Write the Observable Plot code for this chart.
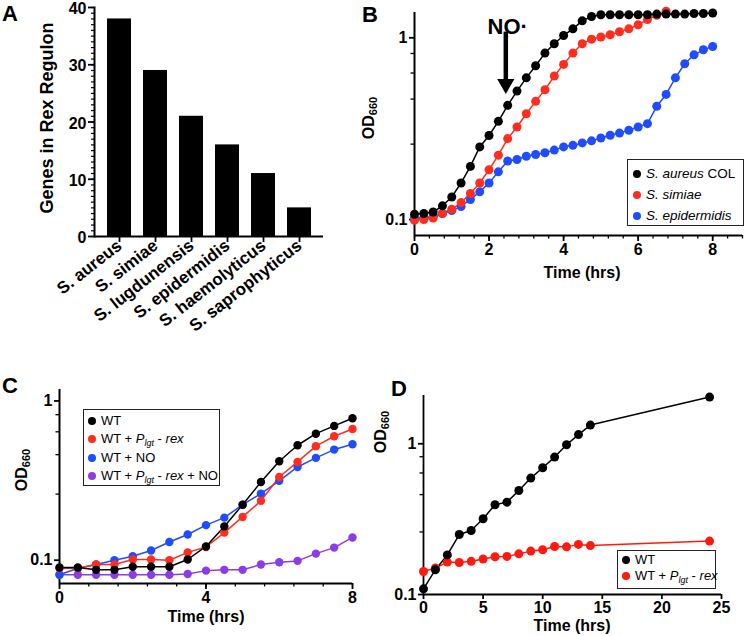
<!DOCTYPE html>
<html><head><meta charset="utf-8">
<script src="https://cdn.jsdelivr.net/npm/d3@7"></script>
<script src="https://cdn.jsdelivr.net/npm/@observablehq/plot@0.6"></script>
<style>
body{margin:0;background:#fff;}
#fig{position:relative;width:750px;height:636px;overflow:hidden;background:#fff;font-family:"Liberation Sans",Arial,Helvetica,sans-serif;color:#000;}
.panel{position:absolute;}
.panel svg{max-width:none;}
.letter{position:absolute;font-weight:bold;font-size:22px;line-height:1;z-index:3;}
.lab{position:absolute;font-weight:bold;font-size:16px;white-space:nowrap;line-height:1;transform:translate(-50%,-50%);z-index:3;}
.lab.rot{transform:translate(-50%,-50%) rotate(-90deg);}
.lab sub{font-size:11px;vertical-align:-3px;line-height:0;}
.legend{position:absolute;border:1.3px solid #222;background:#fff;font-size:13.5px;box-sizing:border-box;z-index:3;padding:2px 0 0 5px;overflow:visible;}
.legend .row{display:flex;align-items:center;white-space:nowrap;}
.legend .dot{display:inline-block;flex:0 0 8px;width:8px;height:8px;border-radius:50%;margin-right:5px;}
.legend sub{font-size:9px;vertical-align:-3px;line-height:0;}
</style>
</head><body>
<div id="fig"></div>
<script>
// ---------- Data ----------
const species = ["S. aureus","S. simiae","S. lugdunensis","S. epidermidis","S. haemolyticus","S. saprophyticus"];
const rexGenes = [38,29,21,16,11,5];

const timeB = [0,0.25,0.5,0.75,1,1.25,1.5,1.75,2,2.25,2.5,2.75,3,3.25,3.5,3.75,4,4.25,4.5,4.75,5,5.25,5.5,5.75,6,6.25,6.5,6.75,7,7.25,7.5,7.75,8];
const aureusCOL = [0.107,0.108,0.110,0.119,0.133,0.159,0.196,0.251,0.290,0.347,0.425,0.509,0.602,0.702,0.824,0.927,1.03,1.12,1.24,1.31,1.34,1.34,1.34,1.34,1.34,1.34,1.35,1.35,1.35,1.35,1.36,1.36,1.37];
const simiae = [0.099,0.100,0.102,0.108,0.114,0.124,0.139,0.159,0.188,0.226,0.279,0.323,0.382,0.447,0.518,0.616,0.714,0.824,0.927,0.983,1.01,1.04,1.08,1.12,1.18,1.26,1.33,1.40];
const epidermidis = [0.102,0.102,0.104,0.108,0.112,0.118,0.129,0.142,0.159,0.183,0.210,0.214,0.223,0.228,0.233,0.241,0.251,0.256,0.264,0.271,0.281,0.291,0.299,0.310,0.323,0.337,0.420,0.488,0.602,0.720,0.806,0.859,0.896];
const seriesB = ["S. aureus COL","S. simiae","S. epidermidis"];
const colorsB = ["#000000","#ff2d1e","#1f4cff"];
const noArrow = {label:"NO·", time:2.45, top:1.075, bottom:0.5};

const timeC = [0,0.5,1,1.5,2,2.5,3,3.5,4,4.5,5,5.5,6,6.5,7,7.5,8];
const wtC = [0.090,0.090,0.087,0.087,0.091,0.091,0.091,0.101,0.122,0.163,0.223,0.310,0.418,0.527,0.623,0.697,0.778];
const wtRexC = [0.089,0.089,0.094,0.094,0.101,0.101,0.100,0.112,0.121,0.149,0.187,0.236,0.333,0.414,0.520,0.600,0.667];
const wtNoC = [0.081,0.089,0.094,0.100,0.106,0.115,0.130,0.145,0.166,0.185,0.223,0.262,0.315,0.385,0.439,0.495,0.535];
const wtRexNoC = [0.081,0.081,0.081,0.081,0.081,0.081,0.081,0.082,0.086,0.087,0.087,0.094,0.097,0.099,0.110,0.120,0.139];
const colorsC = ["#000000","#ff2d1e","#1f4cff","#8a3de6"];

const timeD = [0,1,2,3,4,5,6,7,8,9,10,11,12,13,14,24];
const wtD = [0.109,0.146,0.183,0.250,0.266,0.318,0.394,0.410,0.490,0.592,0.693,0.816,0.985,1.15,1.33,2.04];
const wtRexD = [0.142,0.150,0.164,0.163,0.166,0.172,0.178,0.179,0.186,0.194,0.198,0.208,0.207,0.215,0.211,0.226];
const colorsD = ["#000000","#ff1a10"];

const logMinor = [0.26,0.46,0.64,0.82];

// ---------- helpers ----------
const FONT = "Liberation Sans, Arial, Helvetica, sans-serif";
const fig = document.getElementById("fig");
function place(node, left, top){
  const d = document.createElement("div");
  d.className = "panel"; d.style.left = left+"px"; d.style.top = top+"px";
  d.appendChild(node); fig.appendChild(d);
}
function html(s){ fig.insertAdjacentHTML("beforeend", s); }
const tickText = {fontSize:16, fontWeight:"bold", fontFamily:FONT};
function table(times, vals, name){ return vals.map((v,i)=>({t:times[i], v, s:name})); }

// ---------- Panel A ----------
const dataA = species.map((s,i)=>({s, n:rexGenes[i]}));
place(Plot.plot({
  width:375, height:330, marginLeft:94, marginRight:52, marginTop:7, marginBottom:94,
  style:{fontFamily:FONT, background:"transparent", overflow:"visible"},
  x:{domain:species, paddingInner:0.34, paddingOuter:0.34, axis:null},
  y:{domain:[0,40], axis:null},
  marks:[
    Plot.barY(dataA,{x:"s", y:"n", fill:"#000"}),
    Plot.axisY({ticks:d3.range(0,41,1), tickSize:3, tickFormat:()=>"", label:null, strokeWidth:1.2}),
    Plot.axisY({ticks:[0,10,20,30,40], tickSize:6, tickFormat:()=>"", label:null, strokeWidth:1.8}),
    Plot.axisY({ticks:[0,10,20,30,40], tickSize:0, tickPadding:8, label:null, ...tickText, fontSize:16, dy:1.5}),
    Plot.axisX({tickSize:6, tickPadding:1, tickRotate:-38, label:null, strokeWidth:1.8, ...tickText, fontSize:17}),
    Plot.ruleY([0],{strokeWidth:2}),
    Plot.frame({anchor:"left", strokeWidth:2})
  ]
}), 0, 0);
html(`<div class="letter" style="left:2px;top:3px">A</div>`);
html(`<div class="lab rot" style="left:47px;top:118px;font-size:18px">Genes in Rex Regulon</div>`);

// ---------- Panel B ----------
const yDomB = [0.0817, 1.378];
const dataB = [
  ...table(timeB, epidermidis, seriesB[2]),
  ...table(timeB, simiae, seriesB[1]),
  ...table(timeB, aureusCOL, seriesB[0])
];
const colB = {domain:seriesB, range:colorsB};
place(Plot.plot({
  width:375, height:330, marginLeft:39, marginRight:8, marginTop:12, marginBottom:95,
  style:{fontFamily:FONT, background:"transparent", overflow:"visible"},
  x:{domain:[0,8.8], axis:null},
  y:{type:"log", domain:yDomB, axis:null},
  color:colB,
  marks:[
    Plot.axisX({ticks:d3.range(0,8.81,0.4), tickSize:3.5, tickFormat:()=>"", label:null, strokeWidth:1.3}),
    Plot.axisX({ticks:[0,2,4,6,8], tickSize:6, tickPadding:2, label:null, strokeWidth:1.8, ...tickText}),
    Plot.axisY({ticks:logMinor, tickSize:3.5, tickFormat:()=>"", label:null, strokeWidth:1.3}),
    Plot.axisY({ticks:[0.1,1], tickSize:5, tickPadding:2, tickFormat:d=>String(d), label:null, strokeWidth:1.8, ...tickText}),
    Plot.ruleX([0],{strokeWidth:2}),
    Plot.ruleY([yDomB[0]],{strokeWidth:2}),
    Plot.line(dataB,{x:"t", y:"v", z:"s", stroke:"s", strokeWidth:1.5}),
    Plot.dot(dataB,{x:"t", y:"v", fill:"s", r:4.5}),
    Plot.ruleX([noArrow],{x:"time", y1:"top", y2:d=>d.bottom*1.16, strokeWidth:4.5, stroke:"#000"}),
    Plot.dot([noArrow],{x:"time", y:d=>d.bottom*1.115, symbol:"triangle", rotate:180, r:6.4, fill:"#000"}),
    Plot.text([noArrow],{x:2.5, y:1.15, text:"label", fontSize:22, fontWeight:"bold", fontFamily:FONT, fill:"#000"})
  ]
}), 375, 0);
html(`<div class="letter" style="left:362px;top:4px">B</div>`);
html(`<div class="lab rot" style="left:369px;top:118px">OD<sub>660</sub></div>`);
html(`<div class="lab" style="left:582px;top:273px">Time (hrs)</div>`);
html(`<div class="legend" style="left:627px;top:159px;width:117px;height:67px;padding-top:3px;line-height:21px">
<div class="row"><span class="dot" style="background:${colorsB[0]}"></span><span><i>S. aureus</i> COL</span></div>
<div class="row"><span class="dot" style="background:${colorsB[1]}"></span><span><i>S. simiae</i></span></div>
<div class="row"><span class="dot" style="background:${colorsB[2]}"></span><span><i>S. epidermidis</i></span></div>
</div>`);

// ---------- Panel C ----------
const seriesC = ["WT","WT + Plgt - rex","WT + NO","WT + Plgt - rex + NO"];
const yDomC = [0.0714, 1.18];
const dataC = [
  ...table(timeC, wtRexNoC, seriesC[3]),
  ...table(timeC, wtNoC, seriesC[2]),
  ...table(timeC, wtRexC, seriesC[1]),
  ...table(timeC, wtC, seriesC[0])
];
place(Plot.plot({
  width:375, height:306, marginLeft:59, marginRight:23, marginTop:59, marginBottom:53,
  style:{fontFamily:FONT, background:"transparent", overflow:"visible"},
  x:{domain:[0,8], axis:null},
  y:{type:"log", domain:yDomC, axis:null},
  color:{domain:seriesC, range:colorsC},
  marks:[
    Plot.axisX({ticks:d3.range(0,8.01,0.8), tickSize:3.5, tickFormat:()=>"", label:null, strokeWidth:1.3}),
    Plot.axisX({ticks:[0,4,8], tickSize:6, tickPadding:2, label:null, strokeWidth:1.8, ...tickText}),
    Plot.axisY({ticks:logMinor, tickSize:3.5, tickFormat:()=>"", label:null, strokeWidth:1.3}),
    Plot.axisY({ticks:[0.1,1], tickSize:5, tickPadding:2, tickFormat:d=>String(d), label:null, strokeWidth:1.8, ...tickText}),
    Plot.ruleX([0],{strokeWidth:2}),
    Plot.ruleY([yDomC[0]],{strokeWidth:2}),
    Plot.line(dataC,{x:"t", y:"v", z:"s", stroke:"s", strokeWidth:1.5}),
    Plot.dot(dataC,{x:"t", y:"v", fill:"s", r:4.2})
  ]
}), 0, 330);
html(`<div class="letter" style="left:2px;top:375px">C</div>`);
html(`<div class="lab rot" style="left:22px;top:470px">OD<sub>660</sub></div>`);
html(`<div class="lab" style="left:206px;top:617px">Time (hrs)</div>`);
html(`<div class="legend" style="left:83px;top:409px;width:137px;height:77px;padding:2px 0 0 4px;line-height:18.3px;font-size:13px">
<div class="row"><span class="dot" style="background:${colorsC[0]}"></span><span>WT</span></div>
<div class="row"><span class="dot" style="background:${colorsC[1]}"></span><span>WT + <i>P</i><sub><i>lgt</i></sub> - <i>rex</i></span></div>
<div class="row"><span class="dot" style="background:${colorsC[2]}"></span><span>WT + NO</span></div>
<div class="row"><span class="dot" style="background:${colorsC[3]}"></span><span>WT + <i>P</i><sub><i>lgt</i></sub> - <i>rex</i> + NO</span></div>
</div>`);

// ---------- Panel D ----------
const seriesD = ["WT","WT + Plgt - rex"];
const yDomD = [0.1, 2.09];
const dataD = [
  ...table(timeD, wtRexD, seriesD[1]),
  ...table(timeD, wtD, seriesD[0])
];
place(Plot.plot({
  width:375, height:306, marginLeft:48, marginRight:29, marginTop:65, marginBottom:42,
  style:{fontFamily:FONT, background:"transparent", overflow:"visible"},
  x:{domain:[0,25], axis:null},
  y:{type:"log", domain:yDomD, axis:null},
  color:{domain:seriesD, range:colorsD},
  marks:[
    Plot.axisX({ticks:[0,5,10,15,20,25], tickSize:5, tickPadding:2, label:null, strokeWidth:1.8, ...tickText}),
    Plot.axisY({ticks:logMinor, tickSize:3.5, tickFormat:()=>"", label:null, strokeWidth:1.3}),
    Plot.axisY({ticks:[0.1,1], tickSize:5, tickPadding:2, tickFormat:d=>String(d), label:null, strokeWidth:1.8, ...tickText}),
    Plot.ruleX([0],{strokeWidth:1.8}),
    Plot.ruleY([yDomD[0]],{strokeWidth:1.8}),
    Plot.line(dataD,{x:"t", y:"v", z:"s", stroke:"s", strokeWidth:1.5}),
    Plot.dot(dataD,{x:"t", y:"v", fill:"s", r:4.5})
  ]
}), 375, 330);
html(`<div class="letter" style="left:391px;top:378px">D</div>`);
html(`<div class="lab rot" style="left:381px;top:432px">OD<sub>660</sub></div>`);
html(`<div class="lab" style="left:572px;top:626px">Time (hrs)</div>`);
html(`<div class="legend" style="left:617px;top:550px;width:99px;height:39px;padding:1px 0 0 4px;line-height:16px;font-size:13px">
<div class="row"><span class="dot" style="background:${colorsD[0]}"></span><span>WT</span></div>
<div class="row"><span class="dot" style="background:${colorsD[1]}"></span><span>WT + <i>P</i><sub><i>lgt</i></sub> - <i>rex</i></span></div>
</div>`);
</script>
</body></html>
